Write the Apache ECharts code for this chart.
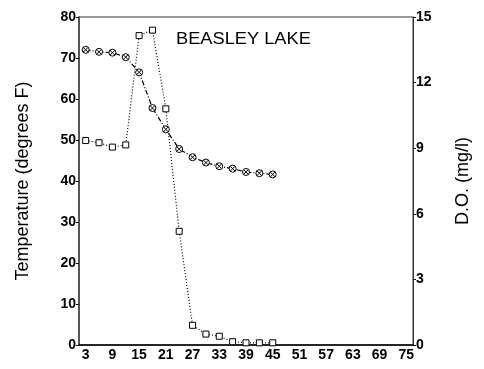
<!DOCTYPE html>
<html>
<head>
<meta charset="utf-8">
<script src="https://cdn.jsdelivr.net/npm/echarts@6/dist/echarts.min.js"></script>
<style>
  html, body { margin: 0; padding: 0; background: #fff; }
  #chart { width: 484px; height: 369px; }
</style>
</head>
<body>
<div id="chart"></div>
<script>
// Depth positions (every 3 units from 3 to 75)
const depths = ['3','6','9','12','15','18','21','24','27','30','33','36','39','42','45','48','51','54','57','60','63','66','69','72','75'];
// Water temperature, degrees F
const temperature = [72, 71.5, 71.3, 70.2, 66.5, 57.8, 52.6, 47.8, 45.8, 44.5, 43.6, 43, 42.2, 41.9, 41.6];
// Dissolved oxygen, mg/l
const dissolvedOxygen = [9.35, 9.25, 9.05, 9.15, 14.15, 14.4, 10.8, 5.2, 0.9, 0.5, 0.4, 0.15, 0.1, 0.1, 0.1];
const tempTicks = [0, 10, 20, 30, 40, 50, 60, 70, 80];
const doTicks = [0, 3, 6, 9, 12, 15];

const chart = echarts.init(document.getElementById('chart'), null, { renderer: 'canvas' });
const font = 'Liberation Sans, Arial, sans-serif';
const crossCircle = 'path://M10,0 A10,10 0 1,1 9.99,0 Z M3,3 L17,17 M17,3 L3,17';
const square = 'path://M0,0 L10,0 L10,10 L0,10 Z';

chart.setOption({
  animation: false,
  backgroundColor: '#fff',
  graphic: [{
    type: 'text',
    left: 176, top: 32,
    scaleX: 1.14,
    style: { text: 'BEASLEY LAKE', font: '16px ' + font, fill: '#000' }
  }],
  grid: { left: 79, right: 71, top: 17, bottom: 24, show: true, borderColor: '#333', borderWidth: 1 },
  xAxis: {
    type: 'category',
    data: depths,
    boundaryGap: true,
    axisLine: { lineStyle: { color: '#000', width: 1.5 } },
    axisTick: { alignWithLabel: true, interval: 0, length: 4, lineStyle: { color: '#000', width: 1.5 } },
    axisLabel: { interval: 1, margin: 3, fontFamily: font, fontSize: 14, fontWeight: 'bold', color: '#000' }
  },
  yAxis: [
    {
      type: 'value', min: tempTicks[0], max: tempTicks[tempTicks.length - 1], interval: 10,
      name: 'Temperature (degrees F)', nameLocation: 'middle', nameGap: 47, nameRotate: 90,
      nameTextStyle: { fontFamily: font, fontSize: 18, color: '#000' },
      axisLine: { show: true, lineStyle: { color: '#555', width: 2 } },
      axisTick: { show: true, length: 3, lineStyle: { color: '#000' } },
      axisLabel: { margin: 3, fontFamily: font, fontSize: 14, fontWeight: 'bold', color: '#000' },
      splitLine: { show: false }
    },
    {
      type: 'value', min: doTicks[0], max: doTicks[doTicks.length - 1], interval: 3,
      name: 'D.O. (mg/l)', nameLocation: 'middle', nameGap: 41, nameRotate: 90,
      nameTextStyle: { fontFamily: font, fontSize: 18, color: '#000' },
      axisLine: { show: true, lineStyle: { color: '#333', width: 1 } },
      axisTick: { show: true, length: 3, lineStyle: { color: '#000' } },
      axisLabel: { margin: 3, fontFamily: font, fontSize: 14, fontWeight: 'bold', color: '#000' },
      splitLine: { show: false }
    }
  ],
  series: [
    {
      name: 'Temperature', type: 'line', yAxisIndex: 0,
      data: temperature,
      symbol: crossCircle, symbolSize: 7,
      itemStyle: { color: '#fff', borderColor: '#000', borderWidth: 1 },
      lineStyle: { color: '#000', width: 1.2, type: [5, 2, 1, 2] }
    },
    {
      name: 'D.O.', type: 'line', yAxisIndex: 1,
      data: dissolvedOxygen,
      symbol: square, symbolSize: 6,
      itemStyle: { color: '#fff', borderColor: '#000', borderWidth: 1 },
      lineStyle: { color: '#000', width: 1.2, type: [1, 2] }
    }
  ]
});
</script>
</body>
</html>
